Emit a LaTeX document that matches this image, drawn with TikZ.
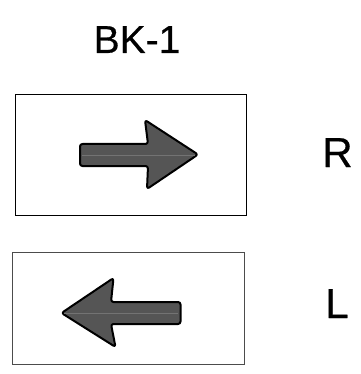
\documentclass[tikz,border=0pt]{standalone}
\usepackage{fontspec}
\setmainfont{Liberation Sans}
\newfontfamily\heavysans[FakeBold=0.5]{Liberation Sans}
\begin{document}
\begin{tikzpicture}[x=1pt,y=-1pt,
  frame/.style={draw=black,line width=1pt},
  arrowshape/.style={draw=black,fill=arrowgray,line width=2pt,line join=round,rounded corners=2.5pt},
  midline/.style={draw=black!55,line width=0.4pt},
  lbl/.style={font=\heavysans\fontsize{39}{42}\selectfont,inner sep=0pt,anchor=base},
  side/.style={font=\heavysans\fontsize{42}{45}\selectfont,inner sep=0pt,anchor=base}]
\definecolor{arrowgray}{HTML}{555555}
\useasboundingbox (0,0) rectangle (360,374);
\fill[white] (0,0) rectangle (360,374);
% labels
\node[lbl] (title) at (137,53) {BK-1};
\node[side] (r) at (337.5,167) {R};
\node[side] (l) at (337,318) {L};
% boxes
\draw[frame] (15.7,94.3) rectangle (246.7,215.7);
\draw[frame,draw=black!70] (12.7,252.3) rectangle (244.3,364.3);
% right arrow
\draw[arrowshape] (80,144) -- (148,144) -- (145,120) -- (198,154.5) -- (147,189) -- (148,166) -- (80,166) -- cycle;
\draw[midline] (82,155) -- (195,155);
% left arrow
\draw[arrowshape] (180.5,302) -- (111,302) -- (113.5,278) -- (61.5,313) -- (115.5,347) -- (111,324) -- (180.5,324) -- cycle;
\draw[midline] (64,313) -- (178,313);
\end{tikzpicture}
\end{document}
